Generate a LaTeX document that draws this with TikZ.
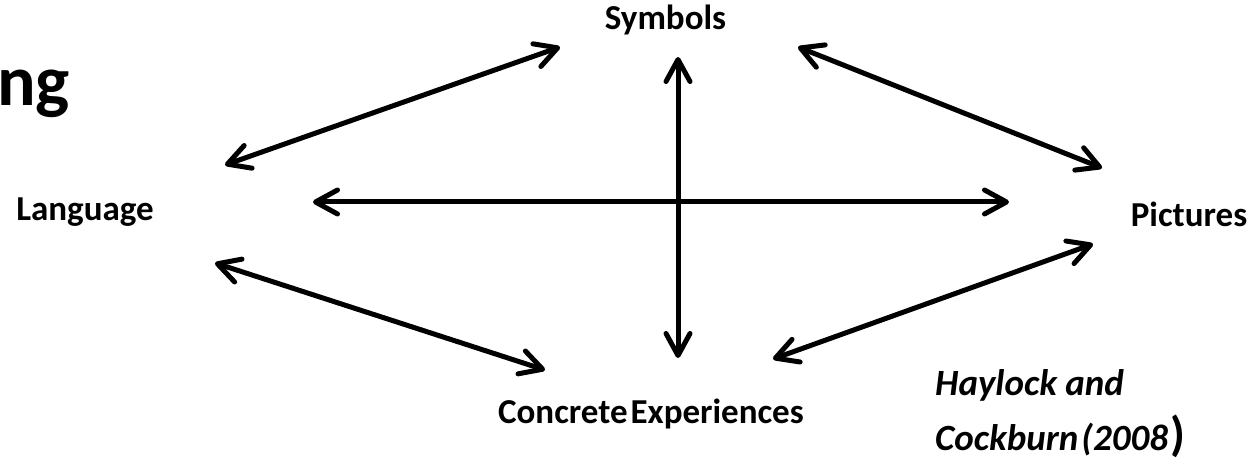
\documentclass[tikz,border=0pt]{standalone}
\usepackage{fontspec}
\setmainfont{Carlito}
\usetikzlibrary{arrows.meta}

\begin{document}
\begin{tikzpicture}[x=1pt,y=-1pt,
  lbl/.style={font=\fontsize{35}{40}\selectfont\bfseries,inner sep=0pt,anchor=base},
  cite/.style={lbl,font=\fontsize{37}{40}\selectfont\bfseries\itshape,anchor=base west},
  link/.style={line width=5pt,{Straight Barb[length=22pt,width=24pt,line cap=round,line join=round]}-{Straight Barb[length=22pt,width=24pt,line cap=round,line join=round]}}]
\useasboundingbox (0,0) rectangle (1257,462);
% labels
\node[lbl,font=\fontsize{72}{76}\selectfont\bfseries,anchor=base east] (title) at (70,106) {ng};
\node[lbl] (symbols) at (665.5,30) {Symbols};
\node[lbl] (language) at (85,221) {Language};
\node[lbl] (pictures) at (1189,227) {Pictures};
\node[lbl] (concrete) at (651,423) {Concrete\hspace{3pt}Experiences};
\node[cite] (cite1) at (935,395) {Haylock and};
\node[cite] (cite2) at (935,450) {Cockburn\hspace{3pt}(2008};
\node[lbl,font=\fontsize{48}{50}\selectfont\bfseries,anchor=base west] (paren) at ([xshift=2pt]cite2.base east) {)};
% arrow ends
\coordinate (ls) at (225,165);
\coordinate (sl) at (560,47);
\coordinate (sp) at (798,47);
\coordinate (ps) at (1102,168);
\coordinate (lc) at (215,263);
\coordinate (cl) at (545,370);
\coordinate (cp) at (773,359);
\coordinate (pc) at (1093,244);
\coordinate (st) at (678,57);
\coordinate (cb) at (678,358);
\coordinate (lh) at (313,202);
\coordinate (ph) at (1009,202);
% connectors
\draw[link] (ls) -- (sl);
\draw[link] (sp) -- (ps);
\draw[link] (lc) -- (cl);
\draw[link] (cp) -- (pc);
\draw[link] (st) -- (cb);
\draw[link] (lh) -- (ph);
\end{tikzpicture}
\end{document}
